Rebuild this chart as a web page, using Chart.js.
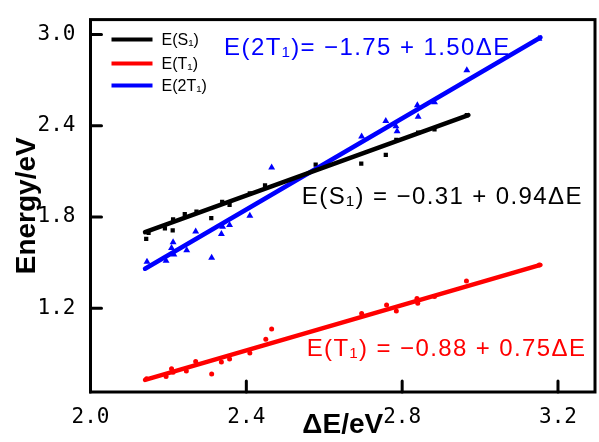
<!DOCTYPE html>
<html>
<head>
<meta charset="utf-8">
<script src="https://cdn.jsdelivr.net/npm/chart.js@4.4.0/dist/chart.umd.min.js"></script>
<style>
  html, body { margin: 0; padding: 0; background: #fff; }
</style>
</head>
<body>
<canvas id="chart" width="599" height="442"></canvas>
<script>
const xTicks = [2.0, 2.4, 2.8, 3.2];
const yTicks = [1.2, 1.8, 2.4, 3.0];

// E(S1) points (black squares)
const s1X = [2.143, 2.149, 2.191, 2.211, 2.212, 2.242, 2.272, 2.310, 2.338, 2.357, 2.409, 2.448, 2.578, 2.695, 2.758, 2.785, 2.841, 2.883, 2.966];
const s1Y = [1.657, 1.696, 1.726, 1.713, 1.785, 1.819, 1.835, 1.793, 1.900, 1.880, 1.956, 2.008, 2.144, 2.151, 2.209, 2.307, 2.355, 2.376, 2.469];

// E(T1) points (red circles)
const t1X = [2.144, 2.194, 2.208, 2.212, 2.246, 2.270, 2.311, 2.336, 2.357, 2.409, 2.450, 2.465, 2.696, 2.760, 2.785, 2.838, 2.840, 2.883, 2.965, 3.152];
const t1Y = [0.737, 0.752, 0.802, 0.780, 0.788, 0.851, 0.769, 0.847, 0.867, 0.906, 0.997, 1.064, 1.166, 1.222, 1.183, 1.265, 1.233, 1.278, 1.380, 1.484];

// E(2T1) points (blue triangles)
const t2X = [2.145, 2.194, 2.208, 2.212, 2.214, 2.247, 2.270, 2.311, 2.336, 2.339, 2.357, 2.409, 2.465, 2.696, 2.758, 2.784, 2.787, 2.839, 2.841, 2.883, 2.966, 3.151];
const t2Y = [1.506, 1.512, 1.596, 1.635, 1.553, 1.582, 1.705, 1.532, 1.689, 1.736, 1.748, 1.809, 2.126, 2.329, 2.431, 2.396, 2.363, 2.534, 2.459, 2.554, 2.764, 2.971];

// fitted lines, end points
const s1FitX = [2.14, 2.97];
const s1FitY = [1.70, 2.47];
const t1FitX = [2.14, 3.155];
const t1FitY = [0.73, 1.485];
const t2FitX = [2.14, 3.155];
const t2FitY = [1.46, 2.98];

const seriesNames = ['E(S\u2081)', 'E(T\u2081)', 'E(2T\u2081)'];
const seriesColors = ['#000000', '#ff0000', '#0000ff'];
const equations = [
  'E(S\u2081) = \u22120.31 + 0.94\u0394E',
  'E(T\u2081) = \u22120.88 + 0.75\u0394E',
  'E(2T\u2081)= \u22121.75 + 1.50\u0394E'
];

const pts = (xs, ys) => xs.map((x, i) => ({ x, y: ys[i] }));

const lineSet = (label, xs, ys, color) => ({
  label, data: pts(xs, ys), showLine: true, borderColor: color,
  borderWidth: 4.5, pointRadius: 0, fill: false, borderCapStyle: 'round'
});
const pointSet = (label, xs, ys, color, style, r) => ({
  label, data: pts(xs, ys), showLine: false, pointStyle: style,
  pointRadius: r, backgroundColor: color, borderColor: color, borderWidth: 0
});

Chart.defaults.color = '#000';
const tickFont = { family: 'DejaVu Sans Mono', size: 21 };
const titleFont = { family: 'Liberation Sans', size: 28, weight: 'bold', lineHeight: 1 };

// frame, inward ticks, legend and equations
const decor = {
  id: 'decor',
  afterDraw(chart) {
    const { ctx, chartArea: a, scales: { x, y } } = chart;
    ctx.save();
    ctx.strokeStyle = '#000';
    ctx.lineWidth = 3;
    ctx.strokeRect(a.left, a.top, a.right - a.left, a.bottom - a.top);
    ctx.lineCap = 'round';
    ctx.beginPath();
    x.ticks.forEach(t => {
      const px = x.getPixelForValue(t.value);
      ctx.moveTo(px, a.bottom); ctx.lineTo(px, a.bottom - 11);
    });
    y.ticks.forEach(t => {
      const py = y.getPixelForValue(t.value);
      ctx.moveTo(a.left, py); ctx.lineTo(a.left + 11, py);
    });
    ctx.stroke();

    // legend
    ctx.font = '16px "Liberation Sans", Arial, sans-serif';
    ctx.textBaseline = 'middle';
    const rows = [20, 44, 66];
    seriesNames.forEach((name, i) => {
      const ly = a.top + rows[i];
      ctx.strokeStyle = seriesColors[i];
      ctx.lineWidth = 4;
      ctx.lineCap = 'butt';
      ctx.beginPath();
      ctx.moveTo(a.left + 21, ly); ctx.lineTo(a.left + 62, ly);
      ctx.stroke();
      ctx.fillStyle = '#000';
      ctx.fillText(name, a.left + 71, ly + 1);
    });

    // equations
    ctx.font = '24px "Liberation Sans", Arial, sans-serif';
    ctx.letterSpacing = '1.4px';
    const eqPos = [[2.5425, 1.928], [2.555, 0.927], [2.343, 2.909]];
    equations.forEach((txt, i) => {
      ctx.fillStyle = seriesColors[i];
      ctx.fillText(txt, x.getPixelForValue(eqPos[i][0]), y.getPixelForValue(eqPos[i][1]));
    });
    ctx.restore();
  }
};

new Chart(document.getElementById('chart'), {
  type: 'scatter',
  data: {
    datasets: [
      lineSet(seriesNames[0], s1FitX, s1FitY, seriesColors[0]),
      lineSet(seriesNames[1], t1FitX, t1FitY, seriesColors[1]),
      lineSet(seriesNames[2], t2FitX, t2FitY, seriesColors[2]),
      pointSet('S1 data', s1X, s1Y, seriesColors[0], 'rect', 3),
      pointSet('T1 data', t1X, t1Y, seriesColors[1], 'circle', 2.5),
      pointSet('2T1 data', t2X, t2Y, seriesColors[2], 'triangle', 4)
    ]
  },
  options: {
    responsive: false,
    animation: false,
    devicePixelRatio: 1,
    layout: { padding: { top: 15, right: 1.5, left: 0, bottom: 0 } },
    plugins: { legend: { display: false }, tooltip: { enabled: false } },
    scales: {
      x: {
        type: 'linear', min: 2.0, max: 3.295,
        afterBuildTicks: s => { s.ticks = xTicks.map(v => ({ value: v })); },
        afterFit: s => { s.height = 50; },
        grid: { display: false }, border: { display: false },
        ticks: {
          color: '#000', font: tickFont,
          padding: 5, maxRotation: 0, autoSkip: false, callback: v => v.toFixed(1)
        },
        title: {
          display: true, text: '\u0394E/eV', color: '#000', font: titleFont,
          padding: { top: 0, bottom: 3 }
        }
      },
      y: {
        type: 'linear', min: 0.65, max: 3.0975,
        afterBuildTicks: s => { s.ticks = yTicks.map(v => ({ value: v })); },
        afterFit: s => { s.width = 90.5; },
        grid: { display: false }, border: { display: false },
        ticks: {
          color: '#000', font: tickFont,
          padding: 7, autoSkip: false, callback: v => v.toFixed(1)
        },
        title: {
          display: true, text: 'Energy/eV', color: '#000', font: titleFont,
          padding: { top: 13, bottom: 0 }
        }
      }
    }
  },
  plugins: [decor]
});
</script>
</body>
</html>
